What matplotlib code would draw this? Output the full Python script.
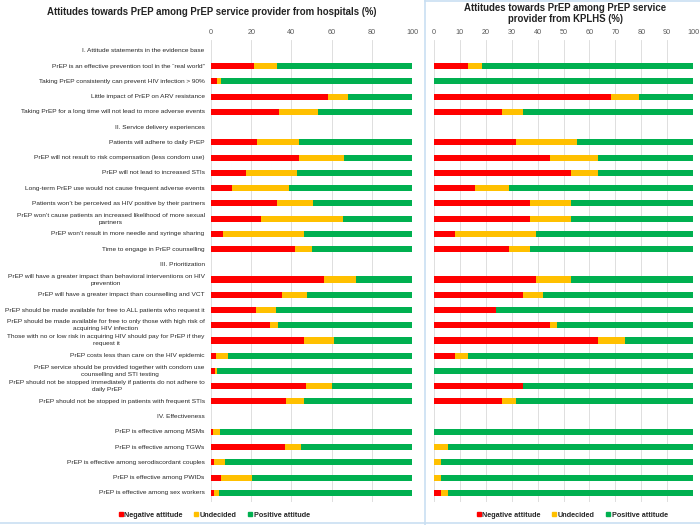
import matplotlib
matplotlib.use("Agg")
import matplotlib.pyplot as plt
from matplotlib.lines import Line2D
import matplotlib.transforms as mtransforms
import numpy as np

plt.rcParams['font.family'] = ['Liberation Sans', 'DejaVu Sans']

labels = [
    "I. Attitude statements in the evidence base",
    "PrEP is an effective prevention tool in the \u201creal world\u201d",
    "Taking PrEP consistently can prevent HIV infection > 90%",
    "Little impact of PrEP on ARV resistance",
    "Taking PrEP for a long time will not lead to more adverse events",
    "II. Service delivery experiences",
    "Patients will adhere to daily PrEP",
    "PrEP will not result to risk compensation (less condom use)",
    "PrEP will not lead to increased STIs",
    "Long-term PrEP use would not cause frequent adverse events",
    "Patients won\u2019t be perceived as HIV positive by their partners",
    "PrEP won\u2019t cause patients an increased likelihood of more sexual\npartners",
    "PrEP won\u2019t result in more needle and syringe sharing",
    "Time to engage in PrEP counselling",
    "III. Prioritization",
    "PrEP will have a greater impact than behavioral interventions on HIV\nprevention",
    "PrEP will have a greater impact than counselling and VCT",
    "PrEP should be made available for free to ALL patients who request it",
    "PrEP should be made available for free to only those with high risk of\nacquiring HIV infection",
    "Those with no or low risk in acquiring HIV should pay for PrEP if they\nrequest it",
    "PrEP costs less than care on the HIV epidemic",
    "PrEP service should be provided together with condom use\ncounselling and STI testing",
    "PrEP should not be stopped immediately if patients do not adhere to\ndaily PrEP",
    "PrEP should not be stopped in patients with frequent STIs",
    "IV. Effectiveness",
    "PrEP is effective among MSMs",
    "PrEP is effective among TGWs",
    "PrEP is effective among serodiscordant couples",
    "PrEP is effective among PWIDs",
    "PrEP is effective among sex workers",
]

# Hospitals (%): None for section headers
hosp_negative = [None, 21.6, 2.8, 58.2, 33.7, None, 22.9, 43.6, 17.2, 10.3, 32.8, 24.7, 5.8, 41.8,
                 None, 56.2, 35.5, 22.2, 29.2, 46.1, 2.7, 2.2, 47.4, 37.3,
                 None, 0.8, 36.8, 1.3, 5.1, 1.3]
hosp_undecided = [None, 11.2, 2.3, 10.1, 19.4, None, 20.7, 22.7, 25.8, 28.3, 17.8, 41.1, 40.3, 8.3,
                  None, 15.9, 12.4, 10.1, 4.3, 15.3, 5.6, 0.6, 12.6, 8.8,
                  None, 3.7, 8.1, 5.7, 15.1, 2.5]

# KPLHS (%)
kplhs_negative = [None, 13.3, 0.0, 68.5, 26.4, None, 31.7, 44.8, 52.8, 15.8, 37.1, 37.1, 8.1, 29.1,
                  None, 39.5, 34.4, 23.8, 44.8, 63.3, 8.1, 0.0, 34.2, 26.4,
                  None, 0.0, 0.0, 0.0, 0.0, 2.7]
kplhs_undecided = [None, 5.1, 0.0, 10.5, 7.8, None, 23.6, 18.5, 10.5, 13.2, 15.7, 15.7, 31.4, 7.8,
                   None, 13.3, 7.8, 0.0, 2.7, 10.4, 5.2, 0.0, 0.0, 5.3,
                   None, 0.0, 5.3, 2.7, 2.7, 2.6]

series_names = ["Negative attitude", "Undecided", "Positive attitude"]
colors = ["#FF0000", "#FFC000", "#00B050"]

W, H = 700, 525
fig = plt.figure(figsize=(7, 5.25), dpi=100)

def px_rect(x0, x1, ytop, ybot):
    return [x0 / W, 1 - ybot / H, (x1 - x0) / W, (ybot - ytop) / H]

def draw_panel(ax, neg, und, xticks, show_labels):
    rows = np.arange(len(labels))
    data_rows = [i for i in rows if neg[i] is not None]
    n = np.array([neg[i] for i in data_rows], dtype=float)
    u = np.array([und[i] for i in data_rows], dtype=float)
    p = 100 - n - u
    y = np.array(data_rows)
    h = 0.4
    ax.barh(y, n, height=h, color=colors[0], zorder=3)
    ax.barh(y, u, left=n, height=h, color=colors[1], zorder=3)
    ax.barh(y, p, left=n + u, height=h, color=colors[2], zorder=3)
    ax.set_xlim(0, 100)
    ax.set_ylim(29.6, -0.72)
    ax.xaxis.tick_top()
    ax.set_xticks(xticks)
    ax.tick_params(axis='x', length=0, labelsize=5.2, labelcolor='#595959', pad=3)
    ax.grid(axis='x', color='#d9d9d9', linewidth=0.6, zorder=0)
    for s in ax.spines.values():
        s.set_visible(False)
    ax.set_yticks([])
    if show_labels:
        trans = mtransforms.offset_copy(ax.get_yaxis_transform(), fig=fig, x=-6.3, y=0,
                                        units='dots')
        for i, lab in enumerate(labels):
            ax.text(0, i, lab, transform=trans, ha='right', va='center',
                    multialignment='center', fontsize=4.68, color='#262626',
                    linespacing=1.5, clip_on=False)

ax1 = fig.add_axes(px_rect(211, 412, 40, 502))
draw_panel(ax1, hosp_negative, hosp_undecided, [0, 20, 40, 60, 80, 100], True)

ax2 = fig.add_axes(px_rect(434, 693, 40, 502))
draw_panel(ax2, kplhs_negative, kplhs_undecided, list(range(0, 101, 10)), False)

fig.text(212 / W, 1 - 12 / H, "Attitudes towards PrEP among PrEP service provider from hospitals (%)",
         ha='center', va='center', fontsize=6.9, fontweight='bold', color='#222222')
fig.text(565 / W, 1 - 13.5 / H, "Attitudes towards PrEP among PrEP service\nprovider from KPLHS (%)",
         ha='center', va='center', fontsize=6.9, fontweight='bold', color='#222222',
         linespacing=1.2)

handles = [Line2D([], [], marker='s', linestyle='none', markersize=3.4,
                  markerfacecolor=c, markeredgecolor=c) for c in colors]
for cx in (214, 572):
    leg = fig.legend(handles, series_names, loc='center', bbox_to_anchor=(cx / W, 1 - 515 / H),
                     ncol=3, frameon=False, fontsize=5.2, handlelength=0.7, handletextpad=0.15,
                     columnspacing=1.5)
    for t in leg.get_texts():
        t.set_fontweight('bold')
        t.set_color('#262626')

border = '#c9dff2'
fig.add_artist(Line2D([425 / W, 425 / W], [0, 1], color=border, linewidth=1.2))
fig.add_artist(Line2D([0, 1], [1 - 523 / H, 1 - 523 / H], color=border, linewidth=1.2))
fig.add_artist(Line2D([425 / W, 1], [1 - 0.5 / H, 1 - 0.5 / H], color=border, linewidth=1.2))

fig.savefig("out.png", dpi=100)
